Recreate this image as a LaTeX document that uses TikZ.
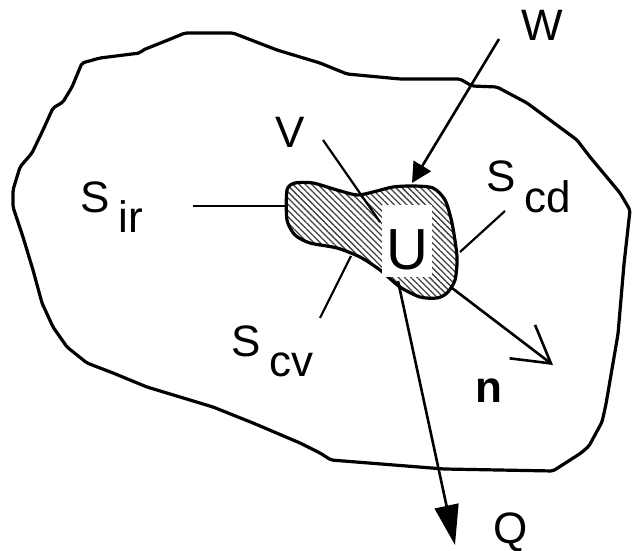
\documentclass[tikz,border=0pt]{standalone}
\usepackage{fontspec}
\setmainfont{Liberation Sans}
\usepackage{tikz}
\usetikzlibrary{arrows.meta,patterns.meta}
\newcommand{\lowsub}[1]{\hspace{4.5pt}\raisebox{-10pt}{#1}}

\begin{document}
\begin{tikzpicture}[x=0.5pt,y=-0.5pt,
    label/.style={anchor=base west, inner sep=0pt, font=\fontsize{22}{26}\selectfont},
    leader/.style={line width=1.1pt},
    flow/.style={line width=1.3pt}]
  \useasboundingbox (0,0) rectangle (633,551);
  %% 1. Outer body
  \draw[line width=1.6pt, line join=round, rounded corners=1pt]
    (185,33) -- (233,33) -- (277,50) -- (320,63) -- (347,74) -- (400,79)
    -- (460,79) -- (472,86) -- (497,87) -- (527,103) -- (550,120) -- (577,140)
    -- (590,157) -- (620,193) -- (630,210) -- (624,264) -- (618,334) -- (606,404)
    -- (602,422) -- (589,446) -- (581,453) -- (553,471) -- (444,469) -- (331,460)
    -- (320,453) -- (300,443) -- (253,423) -- (213,407) -- (180,397) -- (147,387)
    -- (113,373) -- (87,363) -- (67,347) -- (53,327) -- (42,303) -- (33,270)
    -- (23,237) -- (13,207) -- (13,190) -- (20,167) -- (32,153) -- (43,130)
    -- (53,108) -- (63,102) -- (72,87) -- (82,63) -- (100,58) -- (140,53)
    -- (143,50) -- (173,38) -- cycle;
  %% 2. Control volume (hatched)
  \draw[line width=1.6pt, pattern={Lines[angle=-45,distance=2.2pt,line width=0.65pt]},
        pattern color=black!75]
    plot[smooth cycle, tension=0.45] coordinates {
      (287,190) (295,183) (313,183) (337,190) (357,195) (373,192) (393,187)
      (413,186) (433,188) (445,200) (452,223) (457,257) (455,280) (447,293)
      (437,298) (420,297) (400,287) (380,270) (360,257) (337,248) (310,243)
      (295,235) (287,220)};
  \node[fill=white, inner xsep=2pt, inner ysep=3pt, text height=29.5pt, text depth=0.5pt,
        anchor=base, font=\fontsize{29}{34}\selectfont] (U) at (407,270) {U};
  %% 3. Labels
  \node[label] (W) at (521,41) {W};
  \node[label] (V) at (275,148) {V};
  \node[label] (Sir) at (80,213) {S\lowsub{ir}};
  \node[label] (Scd) at (486,192) {S\lowsub{cd}};
  \node[label] (Scv) at (231,357) {S\lowsub{cv}};
  \node[label, font=\fontsize{22}{26}\selectfont\bfseries] (n) at (475,402) {n};
  \node[label] (Q) at (493,543) {Q};
  %% 4. Leader lines
  \coordinate (sirA) at (193,206); \coordinate (sirB) at (287,206);
  \coordinate (vA) at (323,140);   \coordinate (vB) at (380,222);
  \coordinate (cvA) at (320,318);  \coordinate (cvB) at (351,256);
  \coordinate (cdA) at (505,211);  \coordinate (cdB) at (460,252);
  \draw[leader] (sirA) -- (sirB);
  \draw[leader] (vA) -- (vB);
  \draw[leader] (cvA) -- (cvB);
  \draw[leader] (cdA) -- (cdB);
  %% 5. Work, heat and normal
  \coordinate (wA) at (499,39);  \coordinate (wB) at (412,183);
  \coordinate (qA) at (398,281); \coordinate (qB) at (455,545);
  \coordinate (nA) at (452,288); \coordinate (nB) at (553,365);
  \draw[flow, -{Triangle[length=10pt,width=10pt]}] (wA) -- (wB);
  \draw[flow, -{Triangle[length=20pt,width=12pt]}] (qA) -- (qB);
  \draw[flow, -{Straight Barb[length=18pt,width=21pt,line width=1.3pt]}] (nA) -- (nB);
\end{tikzpicture}
\end{document}
